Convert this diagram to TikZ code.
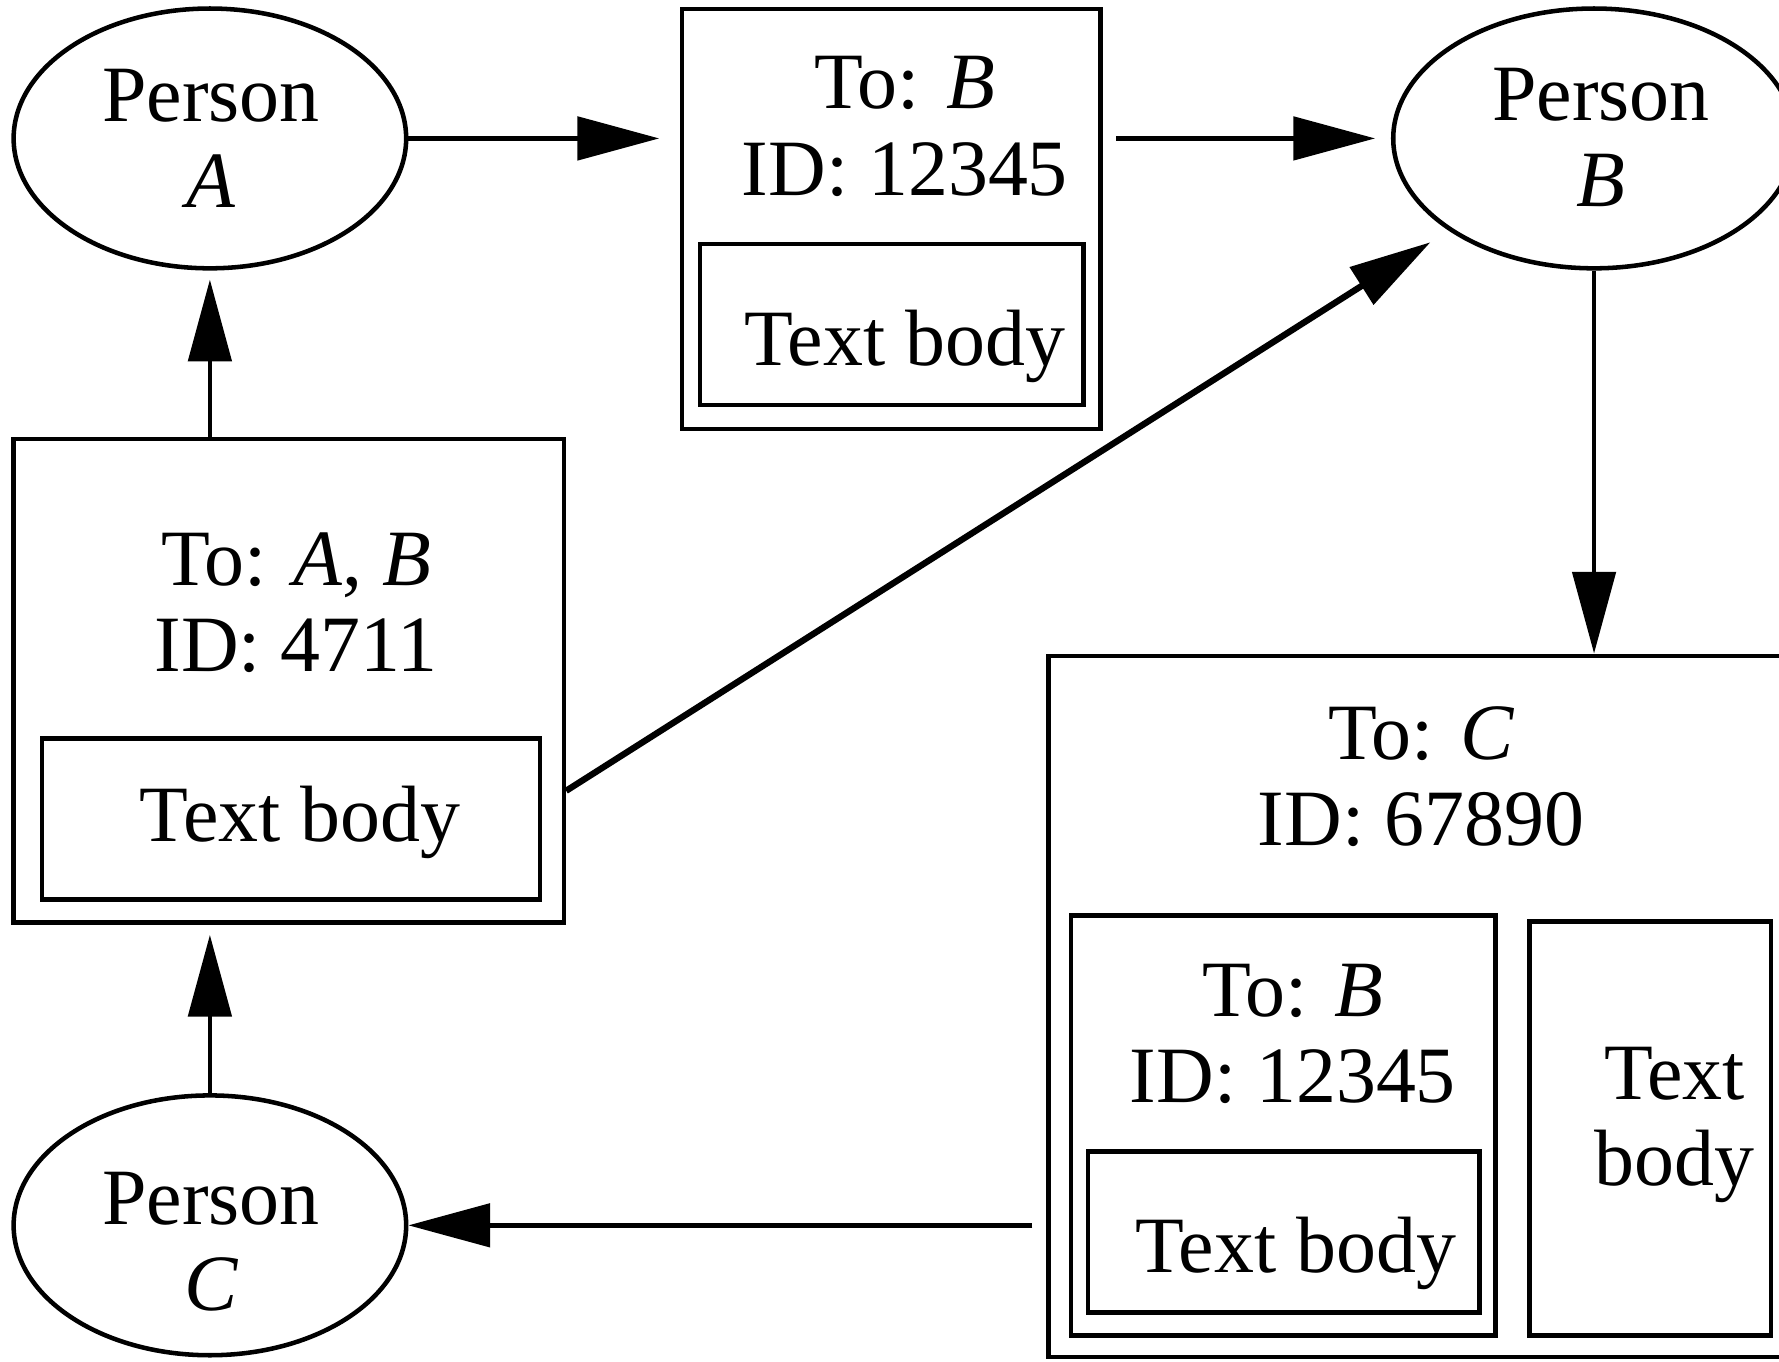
\documentclass[tikz,border=0pt]{standalone}
\usepackage{fontspec}
\setmainfont{Liberation Serif}
\usetikzlibrary{shapes.geometric,arrows.meta}

\tikzset{
  person/.style={ellipse, draw, line width=1pt, minimum width=86.5pt, minimum height=57.25pt, inner sep=0pt},
  msgbox/.style={rectangle, draw, line width=1pt, inner sep=0pt},
  txt/.style={inner sep=0pt, align=center, anchor=base},
  flow/.style={line width=1pt, -{Triangle[length=18pt,width=9.5pt]}}
}

\begin{document}
\begin{tikzpicture}[x=0.25pt,y=0.25pt,yscale=-1,xscale=1,font=\fontsize{17.6}{19}\selectfont]
\useasboundingbox (0,0) rectangle (1568,1200);
\clip (0,0) rectangle (1568,1200);

% persons
\node [person] (pa) at (185,122) {};
\node [txt] (namea) at (186,183) {Person\\\textit{A}};
\node [person, minimum width=88.5pt] (pb) at (1405,122) {};
\node [txt] (nameb) at (1411,182) {Person\\\textit{B}};
\node [person] (pc) at (185,1080) {};
\node [txt] (namec) at (186,1155) {Person\\\textit{C}};

% message to B
\node [msgbox, minimum width=92.25pt, minimum height=92.5pt] (box1) at (785.5,193) {};
\node [msgbox, minimum width=84.5pt, minimum height=35.5pt] (body1) at (786,286) {};
\node [txt] (head1) at (797.5,172) {To: \textit{B}\\ID: 12345};
\node [txt] (text1) at (797.5,322) {Text body};

% message to A, B
\node [msgbox, minimum width=121.25pt, minimum height=106.5pt] (box2) at (254.5,600) {};
\node [msgbox, minimum width=109.75pt, minimum height=35.5pt] (body2) at (256.5,722) {};
\node [txt] (head2) at (261,592) {To: \textit{A}, \textit{B}\\ID: 4711};
\node [txt] (text2) at (264.5,742) {Text body};

% message to C, forwarding the one to B
\node [msgbox, minimum width=164.5pt, minimum height=154.5pt] (box3) at (1253,887) {};
\node [txt] (head3) at (1252.5,745) {To: \textit{C}\\ID: 67890};
\node [msgbox, minimum width=93.5pt, minimum height=92.5pt] (box4) at (1131,992) {};
\node [msgbox, minimum width=86.25pt, minimum height=35.5pt] (body4) at (1131.5,1086) {};
\node [txt] (head4) at (1139.5,972) {To: \textit{B}\\ID: 12345};
\node [txt] (text4) at (1142,1122) {Text body};
\node [msgbox, minimum width=53.25pt, minimum height=91.25pt] (body3) at (1454.5,994.5) {};
\node [txt] (text3) at (1476,1045) {Text\\body};

% flow
\draw [flow, shorten >=4.5pt] (pa.east) -- (pa.east -| box1.west);
\draw [flow, shorten <=3pt, shorten >=3.5pt] (box1.east |- pb.west) -- (pb.west);
\draw [flow, shorten >=2pt] (box2.north -| pa.south) -- (pa.south);
\draw [flow, shorten >=2.25pt] (pc.north) -- (pc.north |- box2.south);
\draw [flow, line width=1.4pt, shorten >=4.75pt] ([yshift=24.25pt]box2.east) -- (pb);
\draw [flow] (pb.south) -- (pb.south |- box3.north);
\draw [flow, shorten <=3pt] (box3.west |- pc.east) -- (pc.east);
\end{tikzpicture}
\end{document}
